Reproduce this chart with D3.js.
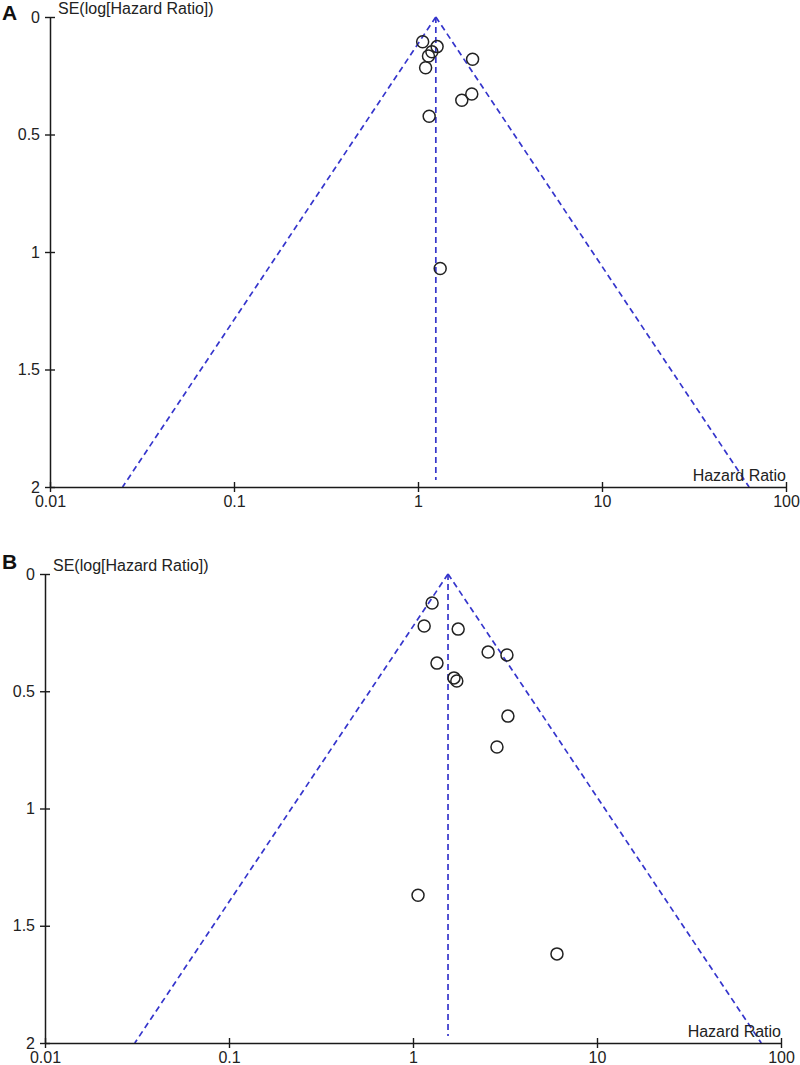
<!DOCTYPE html>
<html><head><meta charset="utf-8">
<script src="https://cdn.jsdelivr.net/npm/d3@7"></script>
<style>body{margin:0;background:#fff}svg{display:block}</style>
</head><body>
<svg id="c" width="800" height="1065"></svg>
<script>
// Panel A data
const hrA = [1.06, 1.27, 1.19, 1.14, 1.98, 1.10, 1.96, 1.73, 1.15, 1.32];
const seA = [0.105, 0.126, 0.148, 0.166, 0.180, 0.216, 0.328, 0.354, 0.422, 1.07];
const pooledA = 1.25;
// Panel B data
const hrB = [1.27, 1.15, 1.76, 2.56, 3.24, 1.35, 1.67, 1.73, 3.28, 2.86, 1.065, 6.06];
const seB = [0.124, 0.222, 0.235, 0.333, 0.345, 0.380, 0.443, 0.456, 0.606, 0.738, 1.37, 1.62];
const pooledB = 1.55;
// Axis ticks
const xTicks = [0.01, 0.1, 1, 10, 100];
const xTickLabels = ["0.01", "0.1", "1", "10", "100"];
const yTicks = [0, 0.5, 1, 1.5, 2];
const yTickLabels = ["0", "0.5", "1", "1.5", "2"];
const panelLabels = ["A", "B"];
const yTitle = "SE(log[Hazard Ratio])";
const xTitle = "Hazard Ratio";

const svg = d3.select("#c");
const FONT = "'Liberation Sans', Arial, sans-serif";
const FS = 16;
const AX = "#1a1a1a";
const DASH = "#3535cc";

function panel(cfg, hr, se, pooled, label) {
  const x = d3.scaleLog().domain([0.01, 100]).range([cfg.x0, cfg.x1]);
  const y = d3.scaleLinear().domain([0, 2]).range([cfg.y0, cfg.y1]);
  const g = svg.append("g");

  // funnel lines
  const z = 1.96 * 2;
  const lines = [
    [[pooled, 0], [pooled * Math.exp(-z), 2]],
    [[pooled, 0], [pooled * Math.exp(z), 2]],
    [[pooled, 0], [pooled, 1.97]]
  ];
  lines.forEach(l => {
    g.append("line")
      .attr("x1", x(l[0][0])).attr("y1", y(l[0][1]))
      .attr("x2", x(l[1][0])).attr("y2", y(l[1][1]))
      .attr("stroke", DASH).attr("stroke-width", 1.7)
      .attr("stroke-dasharray", "6,4");
  });

  // axes
  const yAxis = d3.axisLeft(y).tickValues(yTicks)
    .tickFormat((d, i) => yTickLabels[i]).tickSize(0).tickPadding(10);
  const ya = g.append("g").attr("transform", `translate(${cfg.x0},0)`).call(yAxis);
  const xAxis = d3.axisBottom(x).tickValues(xTicks)
    .tickFormat((d, i) => xTickLabels[i]).tickSize(0).tickPadding(0);
  const xa = g.append("g").attr("transform", `translate(0,${cfg.y1})`).call(xAxis);
  [ya, xa].forEach(a => {
    a.select(".domain").attr("stroke", AX).attr("stroke-width", 1.5);
    a.selectAll("text").attr("font-family", FONT).attr("font-size", FS).attr("fill", "#222");
  });
  ya.selectAll(".tick").append("line").attr("x1", -5).attr("x2", 5)
    .attr("stroke", AX).attr("stroke-width", 1.4);
  xa.selectAll(".tick").append("line").attr("y1", -5).attr("y2", 5)
    .attr("stroke", AX).attr("stroke-width", 1.4);
  xa.selectAll("text").attr("dy", 0).attr("y", 20);

  // titles
  g.append("text").attr("x", cfg.x0 + 8).attr("y", cfg.y0 - 3)
    .attr("font-family", FONT).attr("font-size", FS).attr("fill", "#222").text(yTitle);
  g.append("text").attr("x", cfg.x1).attr("y", cfg.y1 - 6).attr("text-anchor", "end")
    .attr("font-family", FONT).attr("font-size", FS).attr("fill", "#222").text(xTitle);
  g.append("text").attr("x", 2).attr("y", cfg.labelY)
    .attr("font-family", FONT).attr("font-size", 21).attr("font-weight", "bold")
    .attr("fill", "#111").text(label);

  // points
  g.selectAll("circle.pt").data(hr.map((h, i) => [h, se[i]])).enter()
    .append("circle").attr("class", "pt")
    .attr("cx", d => x(d[0])).attr("cy", d => y(d[1])).attr("r", 6)
    .attr("fill", "none").attr("stroke", "#222").attr("stroke-width", 1.5);
}

panel({x0: 50, x1: 786, y0: 17, y1: 487, labelY: 20}, hrA, seA, pooledA, panelLabels[0]);
panel({x0: 45, x1: 781, y0: 574, y1: 1043, labelY: 569}, hrB, seB, pooledB, panelLabels[1]);
</script>
</body></html>
